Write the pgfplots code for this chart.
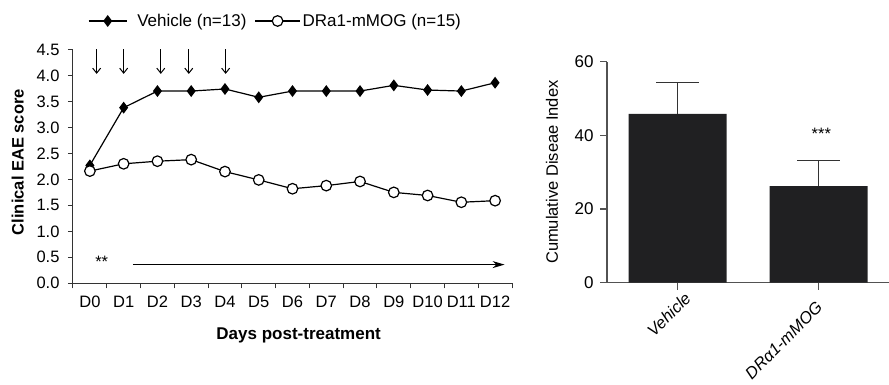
\documentclass[border=0pt]{standalone}
\usepackage{pgfplots}
\pgfplotsset{compat=1.18}
\usepackage{fontspec}
\setmainfont{Liberation Sans}
\usetikzlibrary{arrows.meta}
\definecolor{barc}{HTML}{202022}
\definecolor{axc}{HTML}{333333}
\newcommand{\fs}{\fontsize{16.5}{19}\selectfont}
\begin{document}
\begin{tikzpicture}
\useasboundingbox (0,0) rectangle (889pt,385pt);
\begin{axis}[
 at={(73pt,101.7pt)}, anchor=south west,
 scale only axis, width=439pt, height=233.8pt,
 xmin=-0.5, xmax=12.5, ymin=0, ymax=4.5,
 axis x line*=bottom, axis y line*=left,
 axis line style={line width=1pt, axc, -},
 xtick={0,...,12},
 xticklabels={D0,D1,D2,D3,D4,D5,D6,D7,D8,D9,D10,D11,D12},
 major x tick style={draw=none},
 minor xtick={-0.5,0.5,1.5,2.5,3.5,4.5,5.5,6.5,7.5,8.5,9.5,10.5,11.5,12.5},
 ytick={0,0.5,1,1.5,2,2.5,3,3.5,4,4.5},
 tick align=outside, major tick length=5pt, minor tick length=5pt,
 tick style={line width=1pt, axc},
 /pgf/number format/fixed, /pgf/number format/fixed zerofill,
 /pgf/number format/precision=1, /pgf/number format/assume math mode=true,
 tick label style={font=\fs},
 xticklabel style={yshift=-4pt},
 yticklabel style={xshift=-5pt},
 xlabel={Days post-treatment}, ylabel={Clinical EAE score},
 xlabel style={at={(axis description cs:0.514,-0.222)}, anchor=center, font=\bfseries\fontsize{17}{20}\selectfont},
 ylabel style={at={(axis description cs:-0.126,0.518)}, anchor=center, font=\bfseries\fs},
 legend columns=2,
 legend style={draw=none, fill=none, at={(axis description cs:0.034,1.122)}, anchor=west, font=\fontsize{17}{20}\selectfont, inner sep=0pt,
   /tikz/every even column/.append style={column sep=6pt}},
 clip=false,
]
\addplot[black, line width=1.2pt, mark=diamond*, mark size=5pt, mark options={fill=black, solid},
 legend image code/.code={\draw[mark repeat=2,mark phase=2] plot coordinates {(0pt,0pt) (19pt,0pt) (38pt,0pt)}; \path (46pt,0pt);}]
 coordinates {(0,2.27) (1,3.38) (2,3.70) (3,3.70) (4,3.74) (5,3.58) (6,3.70) (7,3.70) (8,3.70) (9,3.81) (10,3.72) (11,3.70) (12,3.86)};
\addlegendentry{Vehicle (n=13)}
\addplot[black, line width=1.2pt, mark=*, mark size=5.3pt, mark options={fill=white, solid},
 legend image code/.code={\draw[mark repeat=2,mark phase=2] plot coordinates {(0pt,0pt) (22.5pt,0pt) (45pt,0pt)};}]
 coordinates {(0,2.16) (1,2.30) (2,2.35) (3,2.38) (4,2.15) (5,1.99) (6,1.82) (7,1.88) (8,1.96) (9,1.75) (10,1.69) (11,1.56) (12,1.59)};
\addlegendentry{DRa1-mMOG (n=15)}
\foreach \xx in {0.2,1,2.1,2.93,4.02}{
 \edef\tmp{\noexpand\draw[-{Straight Barb[length=5pt,width=8pt]}, line width=1pt] (axis cs:\xx,4.5) -- (axis cs:\xx,4.03);}\tmp
}
\draw[-{Stealth[length=12pt,width=7pt]}, line width=1pt] (axis cs:1.27,0.36) -- (axis cs:12.28,0.36);
\node[anchor=north, inner sep=0pt, font=\fs] at (axis cs:0.35,0.52) {**};
\end{axis}
\begin{axis}[
 at={(607pt,102.3pt)}, anchor=south west,
 scale only axis, width=282pt, height=221pt,
 xmin=-0.5, xmax=1.5, ymin=0, ymax=60,
 axis x line*=bottom, axis y line*=left,
 axis line style={line width=1.1pt, axc!85, -},
 xtick={0,1}, xticklabels={Vehicle, DRα1-mMOG\kern13pt},
 ytick={0,20,40,60},
 /pgf/number format/assume math mode=true,
 tick align=outside, major tick length=7pt,
 tick style={line width=1.1pt, axc!85},
 tick label style={font=\fontsize{17}{20}\selectfont},
 yticklabel style={xshift=-3pt},
 xticklabel style={xshift=6pt, rotate=45, anchor=north east, font=\itshape\fs, inner sep=1pt},
 ylabel={Cumulative Diseae Index},
 ylabel style={at={(axis description cs:-0.195,0.5)}, anchor=center, font=\fs},
 ybar, bar width=98pt,
 clip=false,
]
\addplot[fill=barc, draw=none,
 error bars/.cd, y dir=plus, y explicit, error mark=|,
 error bar style={line width=1.3pt, color=axc},
 error mark options={mark size=21.5pt, line width=1.3pt, color=axc}]
 coordinates {(0,45.8) +- (0,8.6) (1,26.2) +- (0,7.0)};
\node[anchor=north, inner sep=0pt, font=\fs] at (axis cs:1.02,42) {***};
\end{axis}
\end{tikzpicture}
\end{document}
